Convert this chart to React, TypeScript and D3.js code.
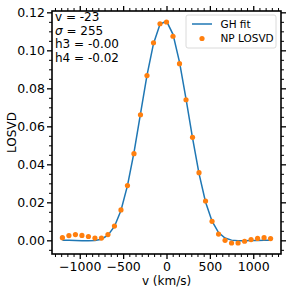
import React, { useEffect, useRef } from 'react';
import * as d3 from 'd3';

// velocity bins (km/s)
const velocities = [
  -1200, -1125, -1050, -975, -900, -825, -750, -675, -600, -525, -450, -375,
  -300, -225, -150, -75, 0, 75, 150, 225, 300, 375, 450, 525, 600, 675, 750,
  825, 900, 975, 1050, 1125, 1200,
];

// Gauss-Hermite fit
const ghFit = [
  0.0, 0.0, -0.0001, -0.0002, -0.0002, -0.0001, 0.0006, 0.0027, 0.0073,
  0.0157, 0.0288, 0.0462, 0.0665, 0.0868, 0.1035, 0.1137, 0.1154, 0.1084,
  0.0938, 0.0745, 0.0539, 0.0351, 0.0202, 0.0101, 0.0041, 0.0012, 0.0001,
  -0.0002, -0.0002, -0.0001, -0.0001, 0.0, 0.0,
];

// non-parametric LOSVD, orange dots
const npLosvd = [
  0.0014, 0.0025, 0.003, 0.0026, 0.002, 0.0012, 0.0012, 0.003, 0.0075, 0.016,
  0.0288, 0.0456, 0.0661, 0.0867, 0.104, 0.114, 0.1149, 0.1074, 0.093, 0.074,
  0.0542, 0.0356, 0.0207, 0.01, 0.0033, 0.0, -0.0014, -0.0014, -0.0005,
  0.0004, 0.001, 0.0014, 0.0009,
];

const xTicks = [-1000, -500, 0, 500, 1000];
const yTicks = [0, 0.02, 0.04, 0.06, 0.08, 0.1, 0.12];
const fitLabels = ['v = -23', '= 255', 'h3 = -0.00', 'h4 = -0.02'];
const legendNames = ['GH fit', 'NP LOSVD'];

const BLUE = '#1f77b4';
const ORANGE = '#ff7f0e';
const FONT = 'DejaVu Sans, sans-serif';

const LosvdChart: React.FC = () => {
  const ref = useRef<SVGSVGElement | null>(null);

  useEffect(() => {
    if (!ref.current) return;
    const W = 291;
    const H = 291;
    const left = 52;
    const right = 281;
    const top = 11;
    const bottom = 254;

    const svg = d3.select(ref.current).attr('width', W).attr('height', H);
    svg.selectAll('*').remove();

    const x = d3.scaleLinear().domain([-1320, 1320]).range([left, right]);
    const y = d3.scaleLinear().domain([-0.0072, 0.1207]).range([bottom, top]);

    const xMinor = d3
      .range(-1500, 1501, 500 / 7)
      .filter((v) => v > -1320 && v < 1320 && Math.abs(Math.round(v / 500) * 500 - v) > 1);
    const yMinor = d3
      .range(-0.005, 0.121, 0.005)
      .filter((v) => v > -0.0072 && v < 0.1207 && Math.abs(Math.round(v / 0.02) * 0.02 - v) > 1e-6);

    const styleAxis = (g: d3.Selection<SVGGElement, unknown, null, undefined>, w: number) => {
      g.select('.domain').remove();
      g.selectAll('line').attr('stroke', '#000').attr('stroke-width', w);
      g.selectAll('text')
        .attr('font-family', FONT)
        .attr('font-size', 12.5)
        .attr('fill', '#000');
    };

    // major + minor ticks on all four sides
    styleAxis(
      svg
        .append('g')
        .attr('transform', `translate(0,${bottom})`)
        .call(
          d3.axisBottom(x).tickValues(xTicks).tickSize(5).tickPadding(3).tickFormat(d3.format('d'))
        ),
      1.3
    );
    styleAxis(
      svg
        .append('g')
        .attr('transform', `translate(0,${bottom})`)
        .call(d3.axisBottom(x).tickValues(xMinor).tickSize(3).tickFormat(() => '')),
      1
    );
    styleAxis(
      svg
        .append('g')
        .attr('transform', `translate(0,${top})`)
        .call(d3.axisTop(x).tickValues(xTicks).tickSize(5).tickFormat(() => '')),
      1.3
    );
    styleAxis(
      svg
        .append('g')
        .attr('transform', `translate(0,${top})`)
        .call(d3.axisTop(x).tickValues(xMinor).tickSize(3).tickFormat(() => '')),
      1
    );
    styleAxis(
      svg
        .append('g')
        .attr('transform', `translate(${left},0)`)
        .call(
          d3.axisLeft(y).tickValues(yTicks).tickSize(5).tickPadding(2).tickFormat(d3.format('.2f'))
        ),
      1.3
    );
    styleAxis(
      svg
        .append('g')
        .attr('transform', `translate(${left},0)`)
        .call(d3.axisLeft(y).tickValues(yMinor).tickSize(3).tickFormat(() => '')),
      1
    );
    styleAxis(
      svg
        .append('g')
        .attr('transform', `translate(${right},0)`)
        .call(d3.axisRight(y).tickValues(yTicks).tickSize(5).tickFormat(() => '')),
      1.3
    );
    styleAxis(
      svg
        .append('g')
        .attr('transform', `translate(${right},0)`)
        .call(d3.axisRight(y).tickValues(yMinor).tickSize(3).tickFormat(() => '')),
      1
    );

    // data
    const pts = velocities.map((v, i) => ({ v, fit: ghFit[i], np: npLosvd[i] }));

    const line = d3
      .line<{ v: number; fit: number }>()
      .x((d) => x(d.v))
      .y((d) => y(d.fit));

    svg
      .append('path')
      .datum(pts)
      .attr('d', line as any)
      .attr('fill', 'none')
      .attr('stroke', BLUE)
      .attr('stroke-width', 1.5);

    svg
      .append('g')
      .selectAll('circle')
      .data(pts)
      .join('circle')
      .attr('cx', (d) => x(d.v))
      .attr('cy', (d) => y(d.np))
      .attr('r', 2.6)
      .attr('fill', ORANGE);

    // frame
    svg
      .append('rect')
      .attr('x', left)
      .attr('y', top)
      .attr('width', right - left)
      .attr('height', bottom - top)
      .attr('fill', 'none')
      .attr('stroke', '#000')
      .attr('stroke-width', 1.6);

    // fit parameters
    const ann = svg
      .append('g')
      .attr('font-family', FONT)
      .attr('font-size', 12)
      .attr('fill', '#000');
    fitLabels.forEach((t, i) => {
      const txt = ann
        .append('text')
        .attr('x', 55)
        .attr('y', 21 + i * 13.7);
      if (i === 1) {
        txt.append('tspan').attr('font-style', 'italic').text('σ');
        txt.append('tspan').text(' ' + t);
      } else {
        txt.text(t);
      }
    });

    // legend
    const lg = svg.append('g');
    lg.append('rect')
      .attr('x', 186)
      .attr('y', 15)
      .attr('width', 90)
      .attr('height', 33)
      .attr('rx', 2)
      .attr('fill', 'rgba(255,255,255,0.8)')
      .attr('stroke', '#d0d0d0')
      .attr('stroke-width', 0.8);
    lg.append('line')
      .attr('x1', 192)
      .attr('x2', 212)
      .attr('y1', 24)
      .attr('y2', 24)
      .attr('stroke', BLUE)
      .attr('stroke-width', 1.5);
    lg.append('circle').attr('cx', 202).attr('cy', 38.5).attr('r', 2.6).attr('fill', ORANGE);
    legendNames.forEach((n, i) => {
      lg.append('text')
        .attr('x', 220.5)
        .attr('y', 27.5 + i * 14.5)
        .attr('font-family', FONT)
        .attr('font-size', 10.5)
        .attr('fill', '#000')
        .text(n);
    });

    // axis labels
    svg
      .append('text')
      .attr('x', (left + right) / 2)
      .attr('y', 284.5)
      .attr('text-anchor', 'middle')
      .attr('font-family', FONT)
      .attr('font-size', 12)
      .text('v (km/s)');
    svg
      .append('text')
      .attr('transform', `translate(16,${(top + bottom) / 2}) rotate(-90)`)
      .attr('text-anchor', 'middle')
      .attr('font-family', FONT)
      .attr('font-size', 12)
      .text('LOSVD');
  }, []);

  return (
    <svg
      ref={ref}
      style={{ position: 'absolute', left: 0, top: 0, background: '#fff' }}
    ></svg>
  );
};

export default function App() {
  return <LosvdChart />;
}
